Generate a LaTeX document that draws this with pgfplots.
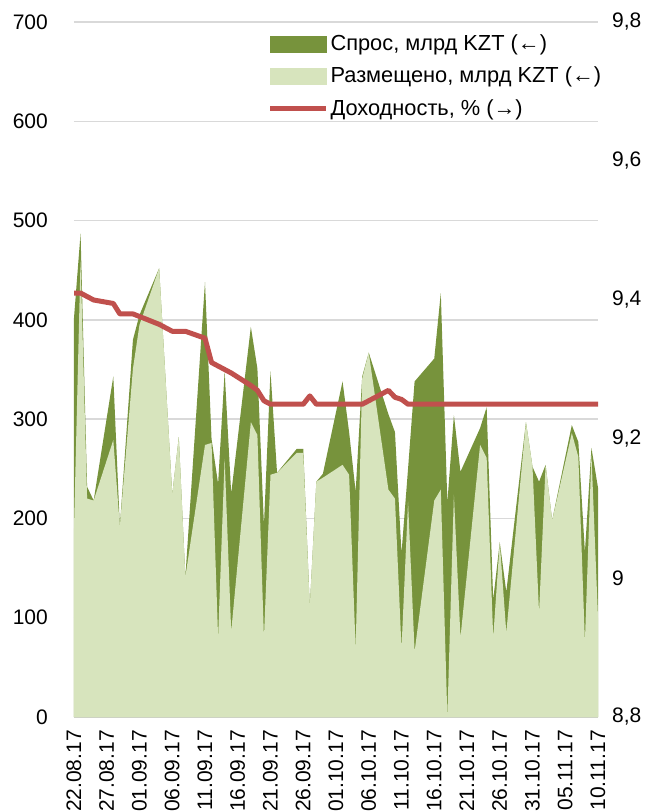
\documentclass[border=0pt]{standalone}
\usepackage{pgfplots}
\pgfplotsset{compat=1.18}
\usepackage{pgfplotstable}
\usepackage{fontspec}
\setmainfont{Liberation Sans}
\definecolor{dgreen}{HTML}{77933C}
\definecolor{lgreen}{HTML}{D7E4BD}
\definecolor{lred}{HTML}{C0504D}
\definecolor{gridc}{HTML}{D9D9D9}

\pgfplotstableread{
day D P
0 402 190
1 487 460
2 232 220
3 218 218
6 343 279
7 192 192
9 380 351
10 405 395
13 452 452
15 224 224
16 282 282
17 141 141
20 438 274
21 280 276
22 235 80
23 348 260
24 225 86
27 393 297
28 351 284
29 193 80
30 348 244
31 246 246
34 270 266
35 270 266
36 111 111
37 237 237
38 245 241
41 338 254
42 287 244
43 227 69
44 343 341
45 367 367
48 305 229
49 287 220
50 165 69
51 250 217
52 338 66
55 361 218
56 427 229
57 216 0
58 304 224
59 247 80
62 291 274
63 312 261
64 118 80
65 176 176
66 126 85
69 297 297
70 252 252
71 237 105
72 254 254
73 198 198
76 294 286
77 277 262
78 166 76
79 271 264
80 231 100
}\auctions

\pgfplotstableread{
day Y
0 9.41
1 9.41
2 9.405
3 9.40
6 9.395
7 9.38
9 9.38
13 9.365
15 9.355
17 9.355
20 9.345
21 9.31
23 9.30
24 9.295
27 9.277
28 9.27
29 9.255
30 9.25
35 9.25
36 9.262
37 9.25
44 9.25
48 9.27
49 9.26
50 9.257
51 9.25
80 9.25
}\yields

\begin{document}
\fontsize{21}{25}\selectfont
\begin{tikzpicture}
\begin{axis}[
  at={(0,0)}, anchor=south west,
  scale only axis, width=524pt, height=695pt,
  xmin=0, xmax=80, ymin=0, ymax=700,
  ytick={0,100,...,700},
  xtick={0,5,...,80},
  xticklabels={22.08.17,27.08.17,01.09.17,06.09.17,11.09.17,16.09.17,21.09.17,26.09.17,01.10.17,06.10.17,11.10.17,16.10.17,21.10.17,26.10.17,31.10.17,05.11.17,10.11.17},
  xticklabel style={rotate=90, anchor=east, yshift=0pt, xshift=-6pt},
  yticklabel style={xshift=-19pt},
  tick label style={font=\fontsize{21}{25}\selectfont},
  /pgf/number format/assume math mode=true,
  major tick length=0pt,
  axis line style={draw=none},
  ymajorgrids, grid style={draw=gridc, line width=1.3pt},
  axis on top=false,
]
\addplot[fill=dgreen, draw=none] table[x=day, y=D] {\auctions} \closedcycle;
\addplot[fill=lgreen, draw=none] table[x=day, y=P] {\auctions} \closedcycle;
\end{axis}
\begin{axis}[
  at={(0,0)}, anchor=south west,
  scale only axis, width=524pt, height=695pt,
  xmin=0, xmax=80, ymin=8.8, ymax=9.8,
  axis x line=none,
  axis y line*=right,
  axis line style={draw=none},
  major tick length=0pt,
  ytick={8.8,9,9.2,9.4,9.6,9.8},
  yticklabels={{8,8},{9},{9,2},{9,4},{9,6},{9,8}},
  yticklabel style={xshift=7pt, font=\fontsize{21}{25}\selectfont},
  legend style={at={(0.369,0.985)}, anchor=north west, draw=none, fill=none,
    font=\fontsize{21.8}{25}\selectfont, row sep=9.5pt, inner sep=0pt,
    legend cell align=left},
]
\addlegendimage{legend image code/.code={\fill[dgreen] (0pt,-8pt) rectangle (56pt,8pt);}}
\addlegendentry{Спрос, млрд KZT (←)}
\addlegendimage{legend image code/.code={\fill[lgreen] (0pt,-8pt) rectangle (56pt,8pt);}}
\addlegendentry{Размещено, млрд KZT (←)}
\addlegendimage{legend image code/.code={\draw[lred, line width=5pt] (0pt,0pt) -- (56pt,0pt);}}
\addlegendentry{Доходность, \% (→)}
\addplot[lred, line width=5pt, line join=round, line cap=round] table[x=day, y=Y] {\yields};
\end{axis}
\pgfresetboundingbox
\path (-74pt,-94pt) rectangle (581pt,717pt);
\end{tikzpicture}
\end{document}
